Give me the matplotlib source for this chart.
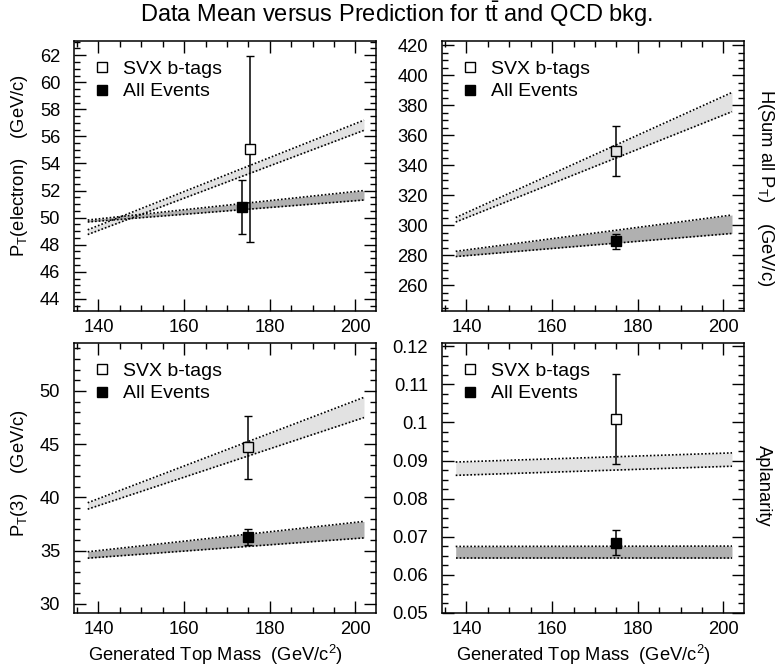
import matplotlib
matplotlib.use('Agg')
import matplotlib.pyplot as plt
from matplotlib.ticker import MultipleLocator, FuncFormatter
from matplotlib.lines import Line2D

plt.rcParams['font.family'] = ['Liberation Sans', 'DejaVu Sans']
plt.rcParams['mathtext.fontset'] = 'custom'
plt.rcParams['mathtext.rm'] = 'Liberation Sans'
plt.rcParams['mathtext.it'] = 'Liberation Sans:italic'

# prediction bands: value at low / high generated top mass
band_mass = [137.5, 202.0]
svx_band_hi = [[49.1, 57.2], [305.0, 388.4], [39.5, 49.4], [0.0896, 0.0920]]
svx_band_lo = [[48.75, 56.45], [302.0, 375.6], [38.9, 47.5], [0.0861, 0.0885]]
all_band_hi = [[49.82, 52.0], [282.5, 306.7], [34.9, 37.75], [0.0674, 0.0675]]
all_band_lo = [[49.68, 51.3], [279.0, 294.4], [34.3, 36.2], [0.0643, 0.0643]]

# data means
svx_mass = [175.4, 175.0, 175.0, 175.0]
svx_mean = [55.05, 349.3, 44.7, 0.1009]
svx_err = [6.86, 16.7, 2.95, 0.0118]
all_mass = [173.6, 175.0, 175.0, 175.0]
all_mean = [50.8, 289.3, 36.3, 0.0684]
all_err = [2.0, 5.0, 0.73, 0.0033]

ylabels = [r'P$_\mathrm{T}$(electron)    (GeV/c)',
           r'H(Sum all P$_\mathrm{T}$)    (GeV/c)',
           r'P$_\mathrm{T}$(3)    (GeV/c)',
           'Aplanarity']
ylims = [(43.1, 63.05), (242.7, 422.7), (29.15, 54.5), (0.0499, 0.1209)]
ymajor = [2, 20, 5, 0.01]
yminor = [0.5, 5, 1, 0.0025]
legend_labels = ['SVX b-tags', 'All Events']

W, H = 781, 666
corners = [(74, 41), (442, 41), (74, 343), (442, 343)]
axw, axh = 302, 270
open_face = ['white', '#e3e3e3', '#e3e3e3', 'white']
ylab_pos = [(-0.146, 0.54), (1.035, 0.455), (-0.146, 0.517), (1.035, 0.47)]
fs = 13.2

fig = plt.figure(figsize=(W / 100, H / 100), dpi=100)
dots = (0, (1, 1.2))

for i in range(4):
    l, t = corners[i]
    ax = fig.add_axes([l / W, 1 - (t + axh) / H, axw / W, axh / H])

    ax.fill_between(band_mass, svx_band_lo[i], svx_band_hi[i], color='#e2e2e2', lw=0)
    ax.fill_between(band_mass, all_band_lo[i], all_band_hi[i], color='#b0b0b0', lw=0)
    for yy in (svx_band_hi[i], svx_band_lo[i], all_band_hi[i], all_band_lo[i]):
        ax.plot(band_mass, yy, color='black', lw=1.2, ls=dots)

    ax.errorbar(svx_mass[i], svx_mean[i], yerr=svx_err[i], fmt='s', ms=7,
                mfc=open_face[i], mec='black', mew=1.0, ecolor='black',
                elinewidth=1.1, capsize=3, capthick=1.1, zorder=5)
    ax.errorbar(all_mass[i], all_mean[i], yerr=all_err[i], fmt='s', ms=7,
                mfc='black', mec='black', mew=1.0, ecolor='black',
                elinewidth=1.1, capsize=3, capthick=1.1, zorder=5)

    ax.set_xlim(134.3, 204.8)
    ax.set_ylim(*ylims[i])
    ax.xaxis.set_major_locator(MultipleLocator(20))
    ax.xaxis.set_minor_locator(MultipleLocator(5))
    ax.yaxis.set_major_locator(MultipleLocator(ymajor[i]))
    ax.yaxis.set_minor_locator(MultipleLocator(yminor[i]))
    ax.yaxis.set_major_formatter(FuncFormatter(lambda v, p: '%g' % round(v, 4)))
    ax.tick_params(which='both', direction='in', top=True, right=True, width=1.0)
    ax.tick_params(which='major', length=8.5)
    ax.tick_params(which='minor', length=4.3)
    ax.tick_params(axis='y', pad=10, labelsize=fs)
    ax.tick_params(axis='x', pad=6, labelsize=fs)
    for s in ax.spines.values():
        s.set_linewidth(1.1)

    if i % 2 == 0:
        ax.set_ylabel(ylabels[i], fontsize=13.2)
    else:
        ax.yaxis.set_label_position('right')
        ax.set_ylabel(ylabels[i], fontsize=13.2, rotation=270, va='bottom')
    ax.yaxis.set_label_coords(*ylab_pos[i])

    if i >= 2:
        ax.set_xlabel(r'Generated Top Mass  (GeV/c$^2$)', fontsize=13.2, va='center')
        ax.xaxis.set_label_coords(0.47, -0.155)

    handles = [Line2D([], [], marker='s', ls='none', ms=7, mfc='white', mec='black', mew=1.0),
               Line2D([], [], marker='s', ls='none', ms=7, mfc='black', mec='black', mew=1.0)]
    ax.legend(handles, legend_labels, loc='upper left', bbox_to_anchor=(0.062, 0.93),
              frameon=False, borderaxespad=0, borderpad=0, handlelength=1.0,
              handletextpad=0.55, labelspacing=0.27, fontsize=14)

fig.text(397 / W, 1 - 14 / H, r'Data Mean versus Prediction for $\mathrm{t\bar{t}}$ and QCD bkg.',
         ha='center', va='center', fontsize=17)

fig.savefig('out.png', dpi=100)
